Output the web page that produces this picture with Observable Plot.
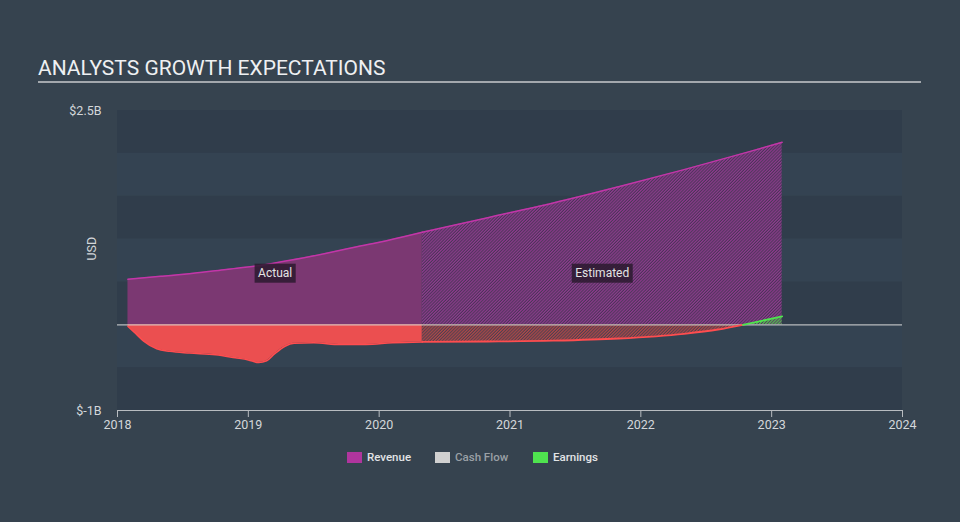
<!DOCTYPE html>
<html>
<head>
<meta charset="utf-8">
<script src="https://cdn.jsdelivr.net/npm/d3@7"></script>
<script src="https://cdn.jsdelivr.net/npm/@observablehq/plot@0.6"></script>
<style>
  html, body { margin: 0; padding: 0; background: #36434f; }
  #wrap { position: relative; width: 960px; height: 522px; background: #36434f; font-family: Roboto, "Open Sans", sans-serif; overflow: hidden; }
  #title { position: absolute; left: 38px; top: 56px; font-size: 21px; line-height: 24px; color: #eef0f2; white-space: nowrap; }
  #rule { position: absolute; left: 38px; top: 81px; width: 883px; height: 2px; background: #a3a8ad; }
  #chart { position: absolute; left: 0; top: 90px; }
  .lg { position: absolute; top: 452px; height: 11px; }
  .lt { position: absolute; top: 450px; font-size: 11.5px; line-height: 15px; font-weight: 500; white-space: nowrap; }
</style>
</head>
<body>
<div id="wrap">
  <div id="title">ANALYSTS GROWTH EXPECTATIONS</div>
  <div id="rule"></div>
  <div id="chart"></div>
  <div id="legend"></div>
</div>
<script>
// ---- data (values in billions USD, time in decimal years) ----
const xTicks = [2018, 2019, 2020, 2021, 2022, 2023, 2024];
const yTicks = [-1, 2.5];

const revActualT = [2018.08, 2018.33, 2018.58, 2018.83, 2019.08, 2019.33, 2019.58, 2019.83, 2020.08, 2020.33];
const revActualV = [0.53, 0.565, 0.60, 0.645, 0.69, 0.755, 0.83, 0.91, 0.99, 1.08];

const revEstT = [2020.33, 2020.83, 2021.33, 2021.83, 2022.33, 2022.83, 2023.08];
const revEstV = [1.08, 1.25, 1.42, 1.61, 1.81, 2.02, 2.13];

const earnActualT = [2018.08, 2018.13, 2018.2, 2018.3, 2018.4, 2018.55, 2018.75, 2018.9, 2019.0, 2019.08, 2019.14, 2019.2, 2019.28, 2019.35, 2019.5, 2019.7, 2019.9, 2020.1, 2020.33];
const earnActualV = [-0.02, -0.09, -0.19, -0.28, -0.31, -0.33, -0.35, -0.385, -0.41, -0.44, -0.42, -0.34, -0.25, -0.215, -0.21, -0.23, -0.23, -0.21, -0.20];

const earnEstT = [2020.33, 2020.83, 2021.33, 2021.83, 2022.33, 2022.59, 2022.78, 2023.08];
const earnEstV = [-0.20, -0.195, -0.185, -0.16, -0.105, -0.055, 0, 0.097];

const legendLabels = ["Revenue", "Cash Flow", "Earnings"];
const legendColors = ["#b0359e", "#d0d0d0", "#4fe34f"];

// ---- build tables ----
const zip = (T, V) => T.map((t, i) => ({t, v: V[i]}));
const revActual = zip(revActualT, revActualV);
const revEst = zip(revEstT, revEstV);
const earnActual = zip(earnActualT, earnActualV);
const earnEst = zip(earnEstT, earnEstV);
const earnEstNeg = earnEst.filter(d => d.v <= 0);
const earnEstPos = earnEst.filter(d => d.v >= 0);
const bands = d3.range(-1, 2.5, 0.5);
const labels = [
  {t: (revActualT[0] + revActualT[revActualT.length - 1]) / 2, v: 0.6, text: "Actual"},
  {t: (revEstT[0] + revEstT[revEstT.length - 1]) / 2, v: 0.6, text: "Estimated"}
];

function defs() {
  const ns = "http://www.w3.org/2000/svg";
  const d = document.createElementNS(ns, "defs");
  d.innerHTML = `
    <pattern id="hRev" width="2.2" height="2.2" patternUnits="userSpaceOnUse" patternTransform="rotate(45)">
      <rect width="2.2" height="2.2" fill="#4b3458"/>
      <line x1="0.6" y1="0" x2="0.6" y2="2.2" stroke="#8f3c8f" stroke-width="1.15"/>
    </pattern>
    <pattern id="hRed" width="2.2" height="2.2" patternUnits="userSpaceOnUse" patternTransform="rotate(45)">
      <rect width="2.2" height="2.2" fill="#4d4050"/>
      <line x1="0.6" y1="0" x2="0.6" y2="2.2" stroke="#b24848" stroke-width="1.15"/>
    </pattern>
    <pattern id="hGreen" width="2.2" height="2.2" patternUnits="userSpaceOnUse" patternTransform="rotate(45)">
      <line x1="0.6" y1="0" x2="0.6" y2="2.2" stroke="#45c845" stroke-width="1.15"/>
    </pattern>`;
  return d;
}

const curve = "monotone-x";
const chart = Plot.plot({
  width: 960,
  height: 360,
  marginTop: 20,
  marginBottom: 40,
  marginLeft: 117,
  marginRight: 58,
  style: {background: "transparent", color: "#d4d7da", fontFamily: "Roboto, sans-serif", fontSize: "12.5px", overflow: "visible"},
  x: {domain: [2018, 2024]},
  y: {domain: [-1, 2.5]},
  marks: [
    defs,
    Plot.rectY(bands.filter((b, i) => i % 2 === 0), {x1: () => 2018, x2: () => 2024, y1: d => d, y2: d => d + 0.5, fill: "#303d4b"}),
    Plot.rectY(bands.filter((b, i) => i % 2 === 1), {x1: () => 2018, x2: () => 2024, y1: d => d, y2: d => d + 0.5, fill: "#344352"}),
    // actual areas
    Plot.areaY(revActual, {x: "t", y1: 0, y2: "v", fill: "#7b3872", curve}),
    Plot.areaY(earnActual, {x: "t", y1: 0, y2: "v", fill: "#eb4f50", curve}),
    // estimated areas (hatched)
    Plot.areaY(revEst, {x: "t", y1: 0, y2: "v", fill: "url(#hRev)", curve}),
    Plot.areaY(earnEstNeg, {x: "t", y1: 0, y2: "v", fill: "url(#hRed)", curve}),
    Plot.areaY(earnEstPos, {x: "t", y1: 0, y2: "v", fill: "url(#hGreen)", curve}),
    // zero line
    Plot.ruleY([0], {stroke: "#d8d8d8", strokeWidth: 1.2, strokeOpacity: 0.8}),
    // lines
    Plot.lineY(revActual, {x: "t", y: "v", stroke: "#c236a8", strokeWidth: 1.5, curve}),
    Plot.lineY(revEst, {x: "t", y: "v", stroke: "#c236a8", strokeWidth: 1.5, curve}),
    Plot.lineY(earnActual, {x: "t", y: "v", stroke: "#ff4d4f", strokeWidth: 1.5, curve}),
    Plot.lineY(earnEstNeg, {x: "t", y: "v", stroke: "#ff4d4f", strokeWidth: 1.8, curve}),
    Plot.lineY(earnEstPos, {x: "t", y: "v", stroke: "#4fe34f", strokeWidth: 1.8, curve}),
    // axes
    Plot.ruleY([-1], {stroke: "#b8bcc0", strokeWidth: 1}),
    Plot.axisX({ticks: xTicks, tickFormat: d => String(d), tickSize: 7, tickPadding: 3, stroke: "#b8bcc0", label: null, fontSize: 12.5}),
    Plot.axisY({ticks: yTicks, tickFormat: d => `$${d}B`, tickSize: 0, tickPadding: 16, label: null, fontSize: 12.5}),
    Plot.text(["USD"], {frameAnchor: "left", rotate: -90, dx: -26, fill: "#d4d7da", fontSize: 12.5}),
    // phase labels
    Plot.text(labels, {x: "t", y: "v", text: "text", fill: "#e4e4e4", fontSize: 12})
  ]
});
document.getElementById("chart").appendChild(chart);

// background boxes behind the phase labels
chart.querySelectorAll("text").forEach(el => {
  if (el.textContent === "Actual" || el.textContent === "Estimated") {
    const b = el.getBBox();
    const r = document.createElementNS("http://www.w3.org/2000/svg", "rect");
    r.setAttribute("x", b.x - 3.5);
    r.setAttribute("y", b.y - 2.5);
    r.setAttribute("width", b.width + 7);
    r.setAttribute("height", b.height + 5);
    r.setAttribute("fill", "#2c1a2f");
    r.setAttribute("fill-opacity", "0.85");
    const t = el.getAttribute("transform");
    if (t) r.setAttribute("transform", t);
    el.parentNode.insertBefore(r, el);
  }
});

// legend
const legend = document.getElementById("legend");
const swX = [347, 435, 533];
const txtColors = ["#e2e4e6", "#9aa0a6", "#e2e4e6"];
legendLabels.forEach((name, i) => {
  const s = document.createElement("div");
  s.className = "lg";
  s.style.left = swX[i] + "px";
  s.style.width = "15px";
  s.style.background = legendColors[i];
  legend.appendChild(s);
  const t = document.createElement("div");
  t.className = "lt";
  t.style.left = (swX[i] + 20) + "px";
  t.style.color = txtColors[i];
  t.textContent = name;
  legend.appendChild(t);
});
</script>
</body>
</html>
